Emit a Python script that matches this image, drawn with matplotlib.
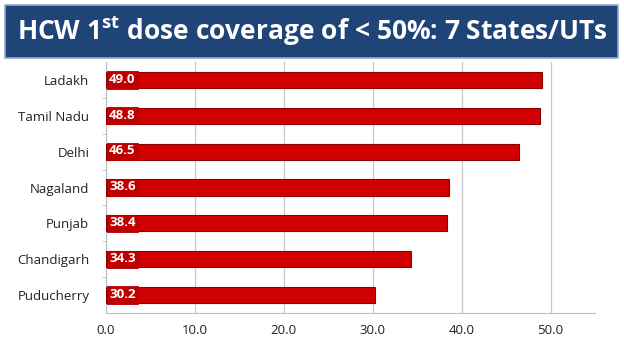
import matplotlib
matplotlib.use("Agg")
import matplotlib.pyplot as plt
from matplotlib.patches import Rectangle

states = ["Ladakh", "Tamil Nadu", "Delhi", "Nagaland", "Punjab", "Chandigarh", "Puducherry"]
values = [49.0, 48.8, 46.5, 38.6, 38.4, 34.3, 30.2]
xticks = [0, 10, 20, 30, 40, 50]

plt.rcParams['font.family'] = ['Open Sans', 'DejaVu Sans']

fig = plt.figure(figsize=(6.24, 3.51), dpi=100)
fig.patch.set_facecolor('white')

# Title banner
banner = Rectangle((5/624, 1-58/351), 613/624, 53/351, transform=fig.transFigure,
                   facecolor='#1F4478', edgecolor='#9AA9C0', linewidth=1.2, zorder=0)
fig.patches.append(banner)
fig.text(0.5, 1-31/351, r"HCW 1$^{\mathregular{st}}$ dose coverage of < 50%: 7 States/UTs",
         ha='center', va='center', color='white', fontsize=19, fontweight='bold')

ax = fig.add_axes([106/624, 1-313/351, 489/624, 251/351])
y = list(range(len(states)))[::-1]
ax.barh(y, values, height=0.45, color='#D00000', edgecolor='#8B0000', linewidth=0.8, zorder=3)
for yi, v in zip(y, values):
    ax.add_patch(Rectangle((0.15, yi-0.24), 3.4, 0.48, facecolor='#C00000',
                           edgecolor='#B00000', linewidth=0.6, zorder=4))
    ax.text(1.85, yi+0.02, f"{v:.1f}", ha='center', va='center', color='white', fontsize=9.5,
            fontweight='bold', zorder=5)

ax.set_xlim(0, 55)
ax.set_ylim(-0.5, len(states)-0.5)
ax.set_yticks(y)
ax.set_yticklabels(states, fontsize=9.5, color='#222222')
ax.set_yticks([i + 0.5 for i in range(len(states)-1)], minor=True)
ax.set_xticks(xticks)
ax.set_xticklabels([f"{t:.1f}" for t in xticks], fontsize=9.5, color='#222222')
ax.xaxis.grid(True, color='#C8C8C8', linewidth=0.9, zorder=0)
ax.set_axisbelow(True)
for s in ['top', 'right']:
    ax.spines[s].set_visible(False)
for s in ['left', 'bottom']:
    ax.spines[s].set_color('#BFBFBF')
ax.tick_params(axis='y', which='major', length=0, pad=12)
ax.tick_params(axis='y', which='minor', length=3, color='#BFBFBF')
ax.tick_params(axis='x', length=0, pad=8)

fig.savefig("out.png", dpi=100)
